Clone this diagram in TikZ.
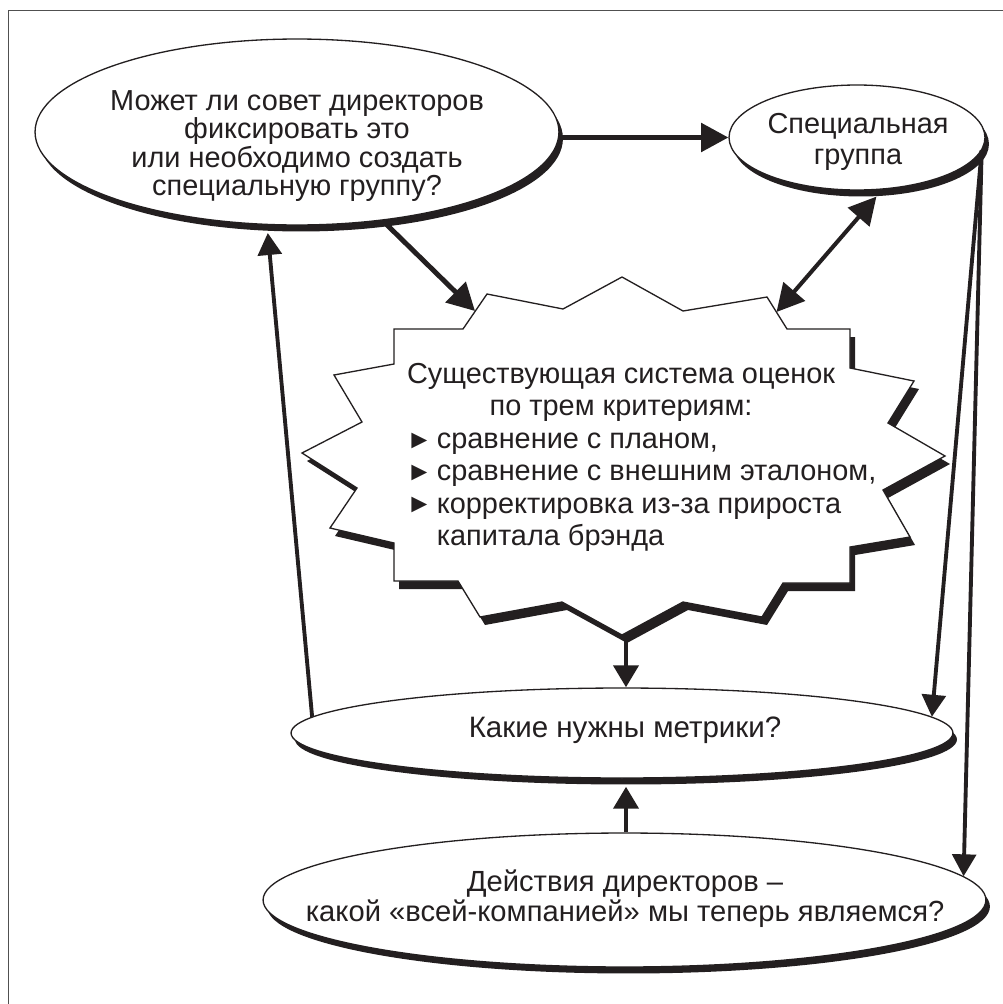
\documentclass[tikz,border=0pt]{standalone}
\usepackage{fontspec}
\setmainfont{Liberation Sans}
\usetikzlibrary{arrows.meta,shapes.geometric,shadows,calc}
\definecolor{ink}{RGB}{35,31,32}
\definecolor{framegray}{RGB}{80,80,80}

% outline of the jagged "current system" burst (pixel grid, y downwards)
\newcommand\burstoutline{(622,277) -- (683,311) -- (767,297) -- (787,329) -- (850,329) -- (850,368)
  -- (914,381) -- (888,423) -- (945,456) -- (883,490) -- (910,537) -- (850,547) -- (850,583)
  -- (783,583) -- (762,617) -- (683,602) -- (622,635) -- (562,602) -- (480,617) -- (458,581)
  -- (394,581) -- (394,543) -- (330,528) -- (357,488) -- (302,453) -- (362,422) -- (334,375)
  -- (394,364) -- (394,329) -- (463,329) -- (487,294) -- (563,309) -- cycle}
% list marker followed by the indent of the list text
\newcommand\listmark{\makebox[0.61cm][l]{\fontsize{15pt}{15pt}\selectfont\raisebox{0.3pt}{►}}}
\newcommand\listindent{\makebox[0.61cm][l]{}}

\begin{document}
\begin{tikzpicture}[x=0.02cm,y=-0.02cm,
  every node/.style={text=ink},
  txt/.style={font=\fontsize{16.45pt}{16.2pt}\selectfont, align=center, inner sep=0pt},
  txtwide/.style={font=\fontsize{16.45pt}{18.3pt}\selectfont, inner sep=0pt},
  bubble/.style={ellipse, draw=ink, line width=0.75pt, fill=white, inner sep=0pt,
    drop shadow={shadow xshift=0.08cm, shadow yshift=-0.13cm, fill=ink, opacity=1}},
  link/.style={draw=ink, line width=2.8pt, -{Triangle[length=15.5pt,width=16pt]}},
  twoway/.style={draw=ink, line width=2.3pt, {Triangle[length=15.5pt,width=16pt]}-{Triangle[length=15.5pt,width=16pt]}},
  vlink/.style={draw=ink, line width=2.8pt, -{Triangle[length=12.5pt,width=14pt]}},
  slink/.style={draw=ink, line width=2.2pt, -{Triangle[length=12.5pt,width=13.5pt]}},
]
\useasboundingbox (0,0) rectangle (1003,1004);
\fill[white] (0,0) rectangle (1003,1004);

% page frame (only the top and left edges fall inside the picture)
\begin{scope}
  \clip (0,0) rectangle (1003,1004);
  \draw[framegray, line width=0.6pt] (8.3,10.7) rectangle (1030,1030);
\end{scope}

% burst with its drop shadow
\fill[ink, shift={(5,8)}] \burstoutline;
\filldraw[fill=white, draw=ink, line width=0.75pt] \burstoutline;
\coordinate (sNW) at (475,311);
\coordinate (sNE) at (776.5,312);
\coordinate (sS) at (626,640);

\node[txtwide, align=center] (st) at (621,392)
  {Существующая система оценок\\по трем критериям:};
\node[txtwide, align=left, anchor=west] (sl) at (406,492)
  {\listmark сравнение с планом,\\
   \listmark сравнение с внешним эталоном,\\
   \listmark корректировка из-за прироста\\
   \listindent капитала брэнда};

% ellipses
\node[bubble, minimum width=10.48cm, minimum height=3.72cm] (q) at (297,132) {};
\node[txt] (qt) at (297,146)
  {Может ли совет директоров\\фиксировать это\\или необходимо создать\\специальную группу?};

\node[bubble, minimum width=5.12cm, minimum height=2.10cm] (g) at (857,137.5) {};
\node[txt, font=\fontsize{16.45pt}{17.6pt}\selectfont] (gt) at (858,142) {Специальная\\группа};

\node[bubble, minimum width=13.24cm, minimum height=1.80cm] (m) at (622,733) {};
\node[txt, font=\fontsize{16.8pt}{17pt}\selectfont] (mt) at (625,730) {Какие нужны метрики?};

\node[bubble, minimum width=14.46cm, minimum height=2.68cm] (b) at (624.5,900) {};
\node[txt, font=\fontsize{16.6pt}{17pt}\selectfont] (bt) at (625,899)
  {Действия директоров –\\какой «всей-компанией» мы теперь являемся?};

% connectors
\draw[link] (q.east |- g.west) -- (g.west);
\draw[link] (q.-46) -- (sNW);
\draw[twoway] ($(g.-64)+(-6,7)$) -- (sNE);
\draw[vlink] (sS) -- (sS |- m.north);
\draw[vlink] (sS |- b.north) -- ($(sS |- m.south)+(0,8)$);
\draw[slink] (m.177) -- ($(q.252)+(1,8)$);
\draw[slink] (g.-6) -- (m.3);
\draw[slink] (g.-6) -- (b.4);
\end{tikzpicture}
\end{document}
